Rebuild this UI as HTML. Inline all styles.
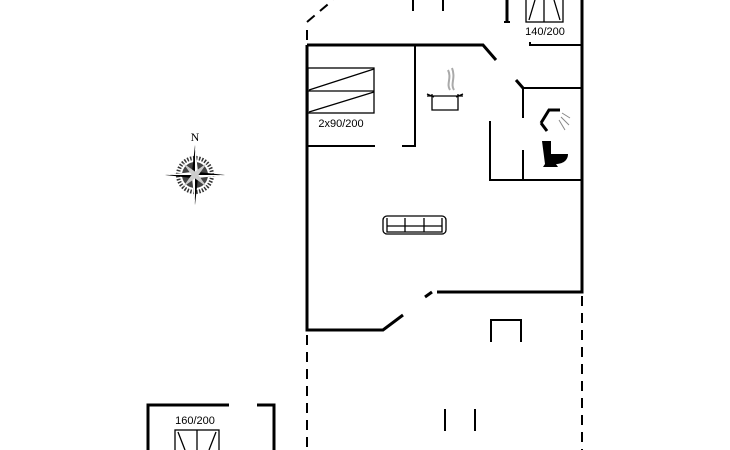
<!DOCTYPE html>
<html><head><meta charset="utf-8"><style>html,body{margin:0;padding:0;background:#fff}svg{display:block}</style></head><body>
<svg width="730" height="450" viewBox="0 0 730 450" xmlns="http://www.w3.org/2000/svg" font-family="Liberation Sans, sans-serif">
<g stroke="#000" fill="none" stroke-width="3">
<path d="M307 45 V330 H383 L403 315"/>
<path d="M307 45 H483 L496 60"/>
<path d="M516 80 L523 88"/>
<path d="M582 0 V292 H437"/>
<path d="M425 297 L432 292"/>
<path d="M148 450 V405 H229 M257 405 H274 V450"/>
<path d="M507 0 V22"/>
</g>
<g stroke="#000" fill="none" stroke-width="2">
<path d="M530 45 H582 M530 42 V46"/>
<path d="M523 88 H582 M523 88 V118 M523 150 V180 M490 121 V180 H582"/>
<path d="M415 45 V146 H402 M375 146 H308"/>
<path d="M413 0 V11 M443 0 V11"/>
<path d="M491 342 V320 H521 V342"/>
<path d="M445 409 V431 M475 409 V431"/>
<path d="M504 22 H510"/>
</g>
<g stroke="#000" fill="none" stroke-width="2" stroke-dasharray="10,7">
<path d="M307 22 L333 0"/>
<path d="M307 30 V45"/>
<path d="M307 335 V450"/>
<path d="M582 296 V450"/>
</g>
<g stroke="#000" fill="none" stroke-width="1.3">
<rect x="308" y="68" width="66" height="45"/>
<path d="M308 91 H374 M309 90 L374 69 M309 112 L374 92"/>
<rect x="526" y="-2" width="37" height="24"/>
<path d="M544 0 V22 M529 20 L535 0 M560 20 L554 0"/>
<rect x="175" y="430" width="44" height="25"/>
<path d="M197 430 V450 M178 432 L185 450 M216 432 L209 450"/>
<path d="M427 96 H463 M432 94 V110 H458 V94 M427 94 L434 97 M456 97 L463 94"/>
<rect x="383" y="216" width="63" height="18" rx="4"/>
<path d="M387 218 V232 H442 V218 M405 218 V232 M424 218 V232 M387 226 H442"/>
</g>
<path d="M450 90 C446 84 452 78 448 70 M454 90 C450 84 456 78 452 68" stroke="#aaa" stroke-width="2" fill="none"/>
<path d="M541 123 L549 110 L560 110 M541 123 L547 131" stroke="#000" stroke-width="3" fill="none"/>
<path d="M562 113 L570 118 M561 117 L569 125 M559 120 L565 130" stroke="#888" stroke-width="1" fill="none"/>
<path d="M542 141 H551 V154 H568 C568 161 562 164 556 164 L558 167 H543 L545 164 Z" fill="#000"/>
<g transform="translate(195,175)">
<circle r="17" fill="none" stroke="#333" stroke-width="4" stroke-dasharray="1.5,1.5"/>
<circle r="13" fill="#444"/>
<path d="M0 -30 L3 -3 L30 0 L3 3 L0 30 L-3 3 L-30 0 L-3 -3 Z" fill="#000"/>
<path d="M0 -30 L3 -3 L0 0 Z M30 0 L3 3 L0 0 Z M0 30 L-3 3 L0 0 Z M-30 0 L-3 -3 L0 0 Z" fill="#fff"/>
<path d="M-12 -12 L2 -2 L12 12 L-2 2 Z M12 -12 L2 2 L-12 12 L-2 -2 Z" fill="#ccc"/>
</g>
<text x="195" y="141" font-family="Liberation Serif, serif" font-size="12" text-anchor="middle">N</text>
<text x="341" y="127" font-size="11" text-anchor="middle">2x90/200</text>
<text x="545" y="35" font-size="11" text-anchor="middle">140/200</text>
<text x="195" y="424" font-size="11" text-anchor="middle">160/200</text>
</svg>
</body></html>
